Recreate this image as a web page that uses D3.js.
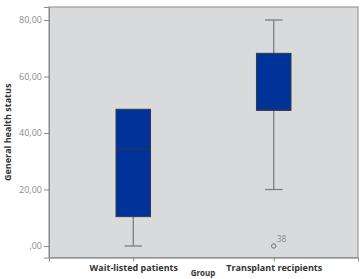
<!DOCTYPE html>
<html><head><meta charset="utf-8">
<script src="https://cdn.jsdelivr.net/npm/d3@7"></script>
<style>body{margin:0;background:#fff}svg{display:block}</style>
</head><body><svg id="c" width="361" height="279"></svg>
<script>
const categories = ["Wait-listed patients", "Transplant recipients"];
const q1 = [10.4, 48.1];
const medians = [34.3, 48.1];
const q3 = [48.4, 68.2];
const whiskerLow = [0, 20];
const whiskerHigh = [48.4, 80];
const outliers = [{group: "Transplant recipients", value: 0, label: "38"}];
const yTicks = [0, 20, 40, 60, 80];

const svg = d3.select("#c");
const L = 49, R = 358, T = 7, B = 257.6;
const x = d3.scalePoint().domain(categories).range([L, R]).padding(0.6);
const y = d3.scaleLinear().domain([-4.1, 84.6]).range([B, T]);
const fmt = v => v === 0 ? ",00" : d3.format(".2f")(v).replace(".", ",");

svg.append("rect").attr("x", L).attr("y", T).attr("width", R - L).attr("height", B - T)
  .attr("fill", "#d9dadb").attr("stroke", "#9a9a9a").attr("stroke-width", 1.2);

const yAx = svg.append("g").attr("transform", `translate(${L},0)`)
  .call(d3.axisLeft(y).tickValues(yTicks).tickFormat(fmt).tickSize(5).tickPadding(2));
yAx.select(".domain").attr("stroke", "#8a8a8a");
yAx.selectAll(".tick line").attr("stroke", "#8a8a8a");
yAx.selectAll("text").attr("fill", "#8c8c8c").style("font-family", "Open Sans, sans-serif").style("font-size", "9px");

const xAx = svg.append("g").attr("transform", `translate(0,${B})`)
  .call(d3.axisBottom(x).tickSize(4).tickPadding(3));
xAx.select(".domain").attr("stroke", "#8a8a8a");
xAx.selectAll(".tick line").attr("stroke", "#8a8a8a");
xAx.selectAll("text").attr("fill", "#333").style("font-family", "Open Sans, sans-serif")
  .style("font-size", "9px").style("font-weight", "bold");

const bw = 34.5, cw = 17.5;
categories.forEach((c, i) => {
  const cx = x(c);
  const g = svg.append("g");
  g.append("line").attr("x1", cx).attr("x2", cx).attr("y1", y(whiskerHigh[i])).attr("y2", y(q3[i])).attr("stroke", "#7d7d7d").attr("stroke-width", 1.3);
  g.append("line").attr("x1", cx).attr("x2", cx).attr("y1", y(q1[i])).attr("y2", y(whiskerLow[i])).attr("stroke", "#7d7d7d").attr("stroke-width", 1.3);
  [whiskerLow[i], whiskerHigh[i]].forEach(v => {
    if (v === q3[i]) return;
    g.append("line").attr("x1", cx - cw / 2).attr("x2", cx + cw / 2).attr("y1", y(v)).attr("y2", y(v)).attr("stroke", "#7d7d7d").attr("stroke-width", 1.3);
  });
  g.append("rect").attr("x", cx - bw / 2).attr("width", bw).attr("y", y(q3[i])).attr("height", y(q1[i]) - y(q3[i]))
    .attr("fill", "#003399").attr("stroke", "#33394a").attr("stroke-width", 1);
  g.append("line").attr("x1", cx - bw / 2).attr("x2", cx + bw / 2).attr("y1", y(medians[i])).attr("y2", y(medians[i])).attr("stroke", "#2b3350").attr("stroke-width", 1.2);
});

outliers.forEach(o => {
  svg.append("circle").attr("cx", x(o.group)).attr("cy", y(o.value)).attr("r", 2.2).attr("fill", "none").attr("stroke", "#707070").attr("stroke-width", 1);
  svg.append("text").attr("x", x(o.group) + 3).attr("y", y(o.value) - 4).text(o.label)
    .attr("fill", "#8c8c8c").style("font-family", "Open Sans, sans-serif").style("font-size", "8.5px");
});

svg.append("text").attr("transform", `translate(11,${(T + B) / 2}) rotate(-90)`).attr("text-anchor", "middle")
  .text("General health status").attr("fill", "#333").style("font-family", "Open Sans, sans-serif").style("font-size", "9px").style("font-weight", "bold");
svg.append("text").attr("x", 203).attr("y", 276).attr("text-anchor", "middle").text("Group")
  .attr("fill", "#333").style("font-family", "Open Sans, sans-serif").style("font-size", "8px").style("font-weight", "bold");
</script></body></html>
